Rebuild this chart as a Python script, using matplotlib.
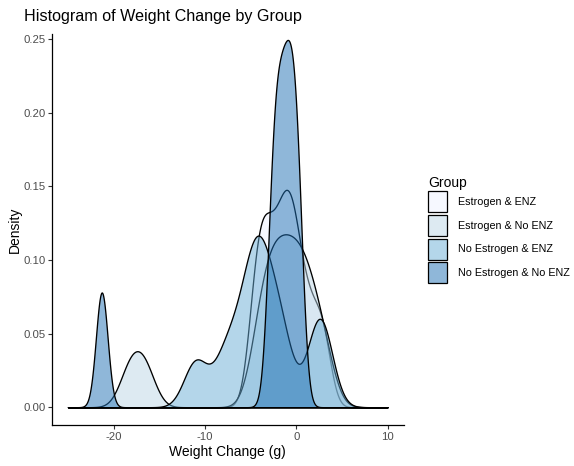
import numpy as np
import matplotlib
matplotlib.use("Agg")
import matplotlib.pyplot as plt
from matplotlib.patches import Rectangle
import seaborn as sns

# ---- data (estimated weight changes per mouse, in g) ----
groups = ["Estrogen & ENZ", "Estrogen & No ENZ", "No Estrogen & ENZ", "No Estrogen & No ENZ"]
estrogen_enz = [-4.6, -3.9, -3.2, -2.4, -1.6, -1.0, -0.4, 0.3, 1.5, 2.9]
estrogen_no_enz = [-18.2, -16.6, -4.3, -3.5, -2.9, -2.3, -1.7, -1.1, -0.5, 0.1, 0.7, 1.35, 2.1, 3.2]
no_estrogen_enz = [-11.0, -7.8, -6.0, -4.8, -4.3, -3.7, -2.6, -1.4, 2.3, 2.9]
no_estrogen_no_enz = [-21.3, -2.75, -2.2, -1.7, -1.15, -0.7, -0.2, 0.3]
bandwidths = [0.9, 1.2, 1.3, 0.64]
fill_colors = ["#EFF3FF", "#BDD7E7", "#6BAED6", "#2171B5"]
x_range = (-25, 10)
xticks = [-20, -10, 0, 10]
yticks = [0.00, 0.05, 0.10, 0.15, 0.20, 0.25]

plt.rcParams['font.family'] = ['Liberation Sans', 'DejaVu Sans']

W, H = 574, 466
fig = plt.figure(figsize=(W / 100, H / 100), dpi=100)
ax = fig.add_axes([52 / W, 1 - 425 / H, (403.5 - 52) / W, (425 - 34) / H])

series = [estrogen_enz, estrogen_no_enz, no_estrogen_enz, no_estrogen_no_enz]
for data, bw, col in zip(series, bandwidths, fill_colors):
    arr = np.asarray(data, dtype=float)
    sns.kdeplot(x=arr, ax=ax, bw_method=bw / arr.std(ddof=1), cut=80,
                clip=x_range, gridsize=3000, fill=True, color=col,
                alpha=0.5, edgecolor="black", linewidth=0.95)

ax.set_xlim(-26.75, 11.75)
ax.set_ylim(-0.0121, 0.2535)
ax.set_xticks(xticks)
ax.set_xticklabels([str(t) for t in xticks])
ax.set_yticks(yticks)
ax.set_yticklabels([f"{t:.2f}" for t in yticks])

for s in ["top", "right"]:
    ax.spines[s].set_visible(False)
for s in ["left", "bottom"]:
    ax.spines[s].set_color("black")
    ax.spines[s].set_linewidth(0.9)

ax.tick_params(axis="both", colors="#333333", length=2.6, width=0.8,
               labelsize=8.2, labelcolor="#4D4D4D")
ax.tick_params(axis="x", pad=2.3)
ax.tick_params(axis="y", pad=1.8)

ax.set_xlabel("Weight Change (g)", fontsize=10, color="black")
ax.set_ylabel("Density", fontsize=10, color="black")
ax.xaxis.set_label_coords(0.5, -0.069)
ax.xaxis.label.set_va("center")
ax.yaxis.set_label_coords(-0.105, 0.5)
ax.yaxis.label.set_va("center")

fig.text(24 / W, 1 - 17 / H, "Histogram of Weight Change by Group",
         fontsize=11.6, ha="left", va="center", color="black")

# ---- legend drawn in figure pixel coordinates ----
key_left, key_w, key_h, key_top0, key_pitch = 428, 19, 21, 191.5, 23.6
fig.text(key_left / W, 1 - 183 / H, "Group", fontsize=10, ha="left",
         va="center", color="black")
for i, (lab, col) in enumerate(zip(groups, fill_colors)):
    top = key_top0 + i * key_pitch
    fig.patches.append(Rectangle((key_left / W, 1 - (top + key_h) / H),
                                 key_w / W, key_h / H, transform=fig.transFigure,
                                 facecolor=matplotlib.colors.to_rgba(col, 0.5),
                                 edgecolor="black", linewidth=0.9))
    fig.text(458 / W, 1 - (top + key_h / 2) / H, lab, fontsize=7.75,
             ha="left", va="center", color="black")

fig.savefig("out.png", dpi=100)
